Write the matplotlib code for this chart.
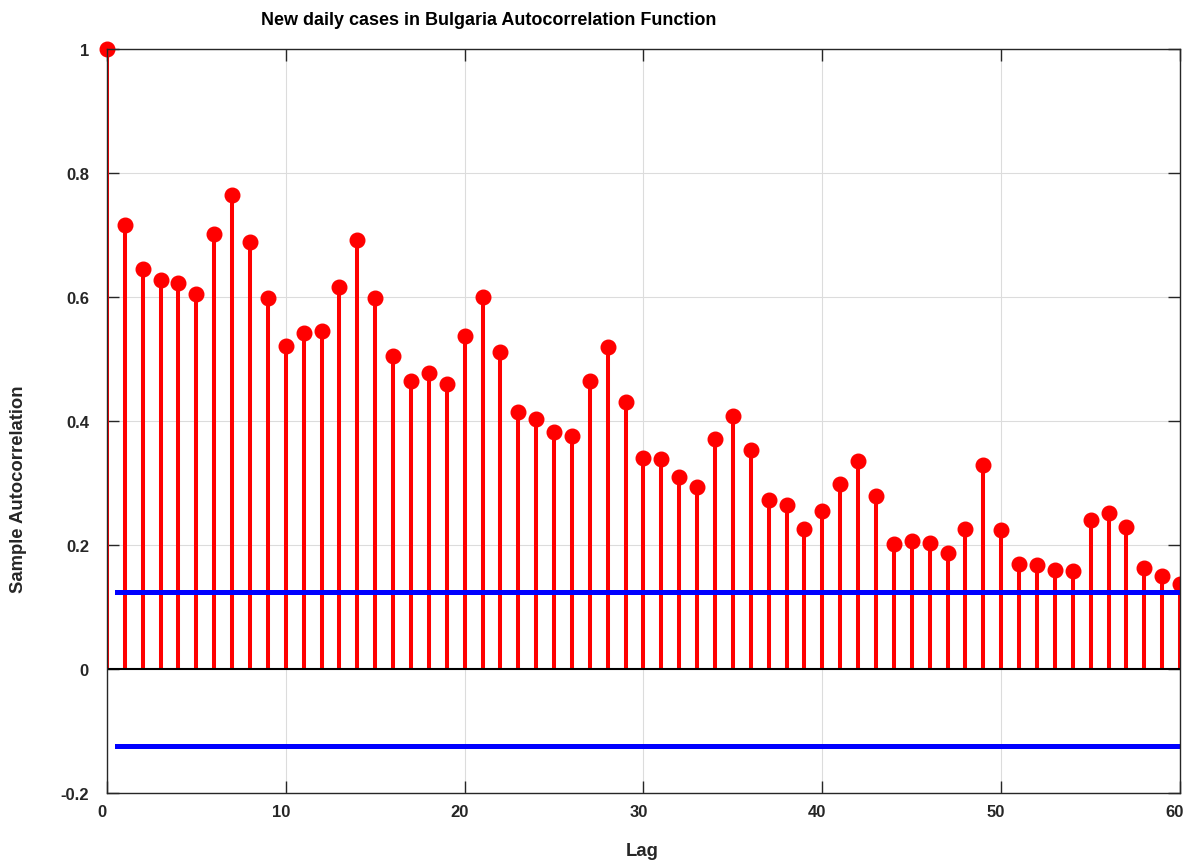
import numpy as np
import matplotlib
matplotlib.use("Agg")
import matplotlib.pyplot as plt
import matplotlib.transforms as mtransforms
from matplotlib.patches import Rectangle

plt.rcParams["font.family"] = ["Liberation Sans", "DejaVu Sans"]

lags = np.arange(0, 61)
acf = [1.0, 0.716, 0.645, 0.627, 0.623, 0.605, 0.702, 0.765, 0.689, 0.598,
       0.521, 0.542, 0.545, 0.616, 0.692, 0.598, 0.505, 0.465, 0.477, 0.460,
       0.537, 0.600, 0.511, 0.415, 0.403, 0.382, 0.376, 0.465, 0.519, 0.431,
       0.340, 0.339, 0.310, 0.294, 0.371, 0.408, 0.353, 0.273, 0.265, 0.226,
       0.255, 0.299, 0.336, 0.279, 0.202, 0.206, 0.203, 0.187, 0.226, 0.329,
       0.224, 0.169, 0.168, 0.160, 0.158, 0.240, 0.252, 0.229, 0.163, 0.150,
       0.137]
bound = 0.124
bound_x = [0.55, 60]

fig = plt.figure(figsize=(11.83, 8.62), dpi=100)
ax = fig.add_axes([0.0904, 0.0789, 0.9071, 0.8631])

ml, sl, bl = ax.stem(lags, acf, linefmt="r-", markerfmt="ro", basefmt="k-")
plt.setp(sl, linewidth=2.9)
plt.setp(ml, markersize=10.5)
plt.setp(bl, linewidth=1.5, color="black")
bl.set_xdata([0, 60])
# let the lag-0 marker spill over the left edge, clip at the right
ml.set_clip_path(Rectangle((-0.05, -0.05), 1.05, 1.1, transform=ax.transAxes))

ax.plot(bound_x, [bound, bound], color="blue", linewidth=3.6)
ax.plot(bound_x, [-bound, -bound], color="blue", linewidth=3.6)

ax.set_xlim(0, 60)
ax.set_ylim(-0.2, 1.0)
ax.set_xticks(range(0, 61, 10))
ax.set_yticks([-0.2, 0, 0.2, 0.4, 0.6, 0.8, 1.0])
ax.set_yticklabels(["-0.2", "0", "0.2", "0.4", "0.6", "0.8", "1"])
ax.grid(True, color="#dcdcdc", linewidth=0.8)
ax.set_axisbelow(True)
ax.tick_params(direction="in", length=8.5, width=1, top=True, right=True,
               colors="#262626", labelsize=12)
ax.tick_params(axis="y", pad=13)
ax.tick_params(axis="x", pad=8)
shift = mtransforms.ScaledTranslation(-5 / 100, 0, fig.dpi_scale_trans)
for lab in ax.get_xticklabels():
    lab.set_transform(lab.get_transform() + shift)
for lab in ax.get_xticklabels() + ax.get_yticklabels():
    lab.set_fontweight("bold")
for s in ax.spines.values():
    s.set_color("#262626")
    s.set_linewidth(1)

fig.text(0.4135, 0.976, "New daily cases in Bulgaria Autocorrelation Function",
         ha="center", va="center", fontsize=13, fontweight="bold")
fig.text(0.543, 0.012, "Lag", ha="center", va="center", fontsize=13.3,
         fontweight="bold", color="#262626")
fig.text(0.016, 0.432, "Sample Autocorrelation", ha="center", va="center",
         rotation=90, fontsize=13.3, fontweight="bold", color="#262626")

fig.savefig("out.png", dpi=100)
